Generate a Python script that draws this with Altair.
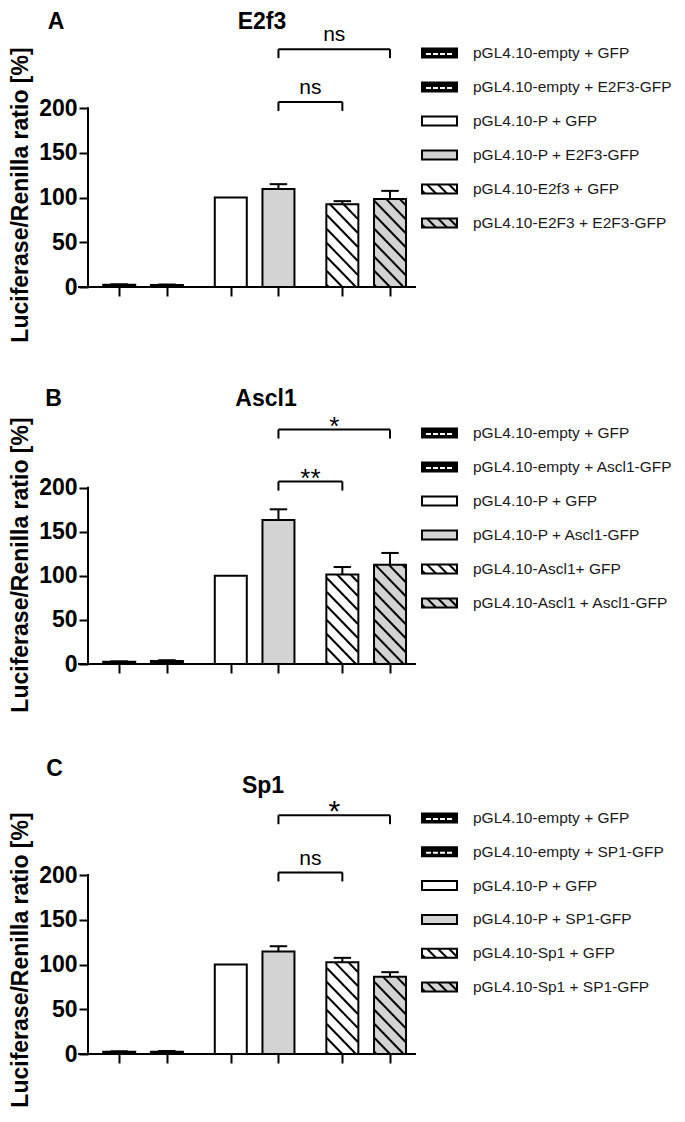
import altair as alt
import pandas as pd

# ---------------- data ----------------
panel_letters = ["A", "B", "C"]
genes = ["E2f3", "Ascl1", "Sp1"]

legend_A = ["pGL4.10-empty  + GFP", "pGL4.10-empty  + E2F3-GFP", "pGL4.10-P + GFP",
            "pGL4.10-P + E2F3-GFP", "pGL4.10-E2f3 + GFP", "pGL4.10-E2F3 + E2F3-GFP"]
legend_B = ["pGL4.10-empty  + GFP", "pGL4.10-empty  + Ascl1-GFP", "pGL4.10-P + GFP",
            "pGL4.10-P + Ascl1-GFP", "pGL4.10-Ascl1+ GFP", "pGL4.10-Ascl1 + Ascl1-GFP"]
legend_C = ["pGL4.10-empty  + GFP", "pGL4.10-empty  + SP1-GFP", "pGL4.10-P + GFP",
            "pGL4.10-P + SP1-GFP", "pGL4.10-Sp1 + GFP", "pGL4.10-Sp1 + SP1-GFP"]

means_A = [2.5, 2.3, 100, 109.5, 92.5, 98.5]
sem_A = [0.5, 0.5, 0, 5.5, 3.5, 9.0]
means_B = [2.5, 3.5, 100, 163.5, 101.5, 112.5]
sem_B = [0.5, 0.8, 0, 12.0, 8.5, 13.5]
means_C = [2.5, 2.5, 100, 114.5, 102.5, 86.5]
sem_C = [0.5, 0.8, 0, 6.0, 5.0, 5.0]

# significance brackets: (from bar, to bar, label, level)
brk_A = [(3, 4, "ns", 207), (3, 5, "ns", 266)]
brk_B = [(3, 4, "**", 207), (3, 5, "*", 266)]
brk_C = [(3, 4, "ns", 203), (3, 5, "*", 267)]

y_ticks = [0, 50, 100, 150, 200]
y_title = "Luciferase/Renilla ratio [%]"

# ---------------- style / layout ----------------
FILLS = ["black", "black", "white", "#d3d3d3", "white", "#d3d3d3"]
HATCH = [False, False, False, False, True, True]
CHECK = [True, True, False, False, False, False]
POS = [1 + i + (i // 2) * 0.34 for i in range(6)]
X_MIN, X_MAX = 0.45, 7.12
W = 328
UX = W / (X_MAX - X_MIN)
BAR_W = 32
CAP_W = 18
LW = 240
LGAP = 5

layout = [
    dict(ymax=312, H=279, lab_xy=(-32, 14), gene_xy=(174, 14), title_above0=92.5,
         leg0=45, legstep=34, star=26),
    dict(ymax=312, H=275, lab_xy=(-34.5, 9.5), gene_xy=(178, 9.5), title_above0=99.5,
         leg0=44, legstep=34, star=26),
    dict(ymax=322, H=288, lab_xy=(-33.5, 3), gene_xy=(175, 20), title_above0=94.5,
         leg0=52, legstep=33.8, star=30),
]


def hatch_segments(x0, x1, y0, y1, spacing, phase):
    """diagonal '\\' lines clipped to a box (y measured upward)."""
    h = y1 - y0
    segs = []
    c = x0 + phase
    while c < x1 + h:
        xs = max(x0, c - h)
        xe = min(x1, c)
        if xe - xs > 0.5:
            segs.append((xs, y0 + c - xs, xe, y0 + c - xe))
        c += spacing
    return segs


def make_panel(letter, gene, labels, means, sems, brackets, lay):
    ymax, H = lay["ymax"], lay["H"]
    ky = H / ymax
    xs = alt.Scale(domain=[X_MIN, X_MAX], nice=False, zero=False)
    ys = alt.Scale(domain=[0, ymax], nice=False, zero=True)

    xaxis = alt.Axis(values=POS, labels=False, title=None, domain=False, grid=False,
                     ticks=True, tickSize=9, tickWidth=2, tickColor="black")
    yaxis = alt.Axis(values=y_ticks, domain=False, grid=False, tickSize=9, tickWidth=2,
                     tickColor="black", labelFontSize=23, labelFontWeight="bold",
                     labelColor="black", labelPadding=2, title=y_title,
                     titleFontSize=23, titleFontWeight="bold", titleColor="black",
                     titleX=-68, titleY=H - lay["title_above0"], titleBaseline="middle",
                     titleAlign="center", titleAngle=270)

    def X(f):
        return alt.X(f, scale=xs, axis=xaxis)

    def Y(f):
        return alt.Y(f, scale=ys, axis=yaxis)

    df = pd.DataFrame({"pos": POS, "val": means, "err": sems, "fill": FILLS})
    df["top"] = df["val"] + df["err"]
    df["xl"] = df["pos"] - CAP_W / 2 / UX
    df["xr"] = df["pos"] + CAP_W / 2 / UX

    base = alt.Chart(df)
    bars_fill = base.mark_bar(orient="vertical", size=BAR_W, strokeWidth=0).encode(
        x=X("pos:Q"), y=Y("val:Q"), fill=alt.Fill("fill:N", scale=None))

    hrows = []
    for i in range(6):
        if not HATCH[i]:
            continue
        cx = (POS[i] - X_MIN) * UX
        for (a, b, c, d) in hatch_segments(cx - BAR_W / 2, cx + BAR_W / 2, 0,
                                           means[i] * ky, 14, 2):
            hrows.append({"x": X_MIN + a / UX, "y": b / ky,
                          "x2": X_MIN + c / UX, "y2": d / ky})
    hatch = alt.Chart(pd.DataFrame(hrows)).mark_rule(strokeWidth=2, color="black").encode(
        x=X("x:Q"), y=Y("y:Q"), x2="x2:Q", y2="y2:Q")

    bars_outline = base.mark_bar(orient="vertical", size=BAR_W, fillOpacity=0,
                                 stroke="black", strokeWidth=2).encode(
        x=X("pos:Q"), y=Y("val:Q"))

    err = base.transform_filter("datum.err > 0")
    err_stem = err.mark_rule(strokeWidth=2, color="black").encode(
        x=X("pos:Q"), y=Y("val:Q"), y2="top:Q")
    err_cap = err.mark_rule(strokeWidth=2, color="black").encode(
        x=X("xl:Q"), x2="xr:Q", y=Y("top:Q"))

    yline = alt.Chart(pd.DataFrame({"y0": [0], "y1": [200]})).mark_rule(
        strokeWidth=2, color="black", strokeCap="square").encode(
        x=alt.value(0), y=Y("y0:Q"), y2="y1:Q")
    xline = alt.Chart(pd.DataFrame({"y0": [0]})).mark_rule(
        strokeWidth=2, color="black").encode(
        x=alt.value(-10), x2=alt.value(W), y=Y("y0:Q"))

    drop = 9 / ky
    hb, vb, tb = [], [], []
    for (a, b, lab, lev) in brackets:
        hb.append({"xa": POS[a], "xb": POS[b], "lev": lev})
        for k in (a, b):
            vb.append({"x": POS[k], "y0": lev - drop, "y1": lev})
        star = lab.startswith("*")
        off = (2.8 if star else 13.8) / ky
        tb.append({"x": (POS[a] + POS[b]) / 2, "y": lev + off, "t": lab,
                   "fs": lay["star"] if star else 21})
    br_h = alt.Chart(pd.DataFrame(hb)).mark_rule(strokeWidth=2, color="black").encode(
        x=X("xa:Q"), x2="xb:Q", y=Y("lev:Q"))
    br_v = alt.Chart(pd.DataFrame(vb)).mark_rule(strokeWidth=2, color="black").encode(
        x=X("x:Q"), y=Y("y0:Q"), y2="y1:Q")
    br_t = alt.Chart(pd.DataFrame(tb)).mark_text(baseline="middle", align="center",
                                                 color="black").encode(
        x=X("x:Q"), y=Y("y:Q"), text="t:N", size=alt.Size("fs:Q", scale=None))

    one = pd.DataFrame({"k": [0]})
    t_letter = alt.Chart(one).mark_text(text=letter, fontSize=23, fontWeight="bold",
                                        align="center", baseline="middle",
                                        color="black").encode(
        x=alt.value(lay["lab_xy"][0]), y=alt.value(lay["lab_xy"][1]))
    t_gene = alt.Chart(one).mark_text(text=gene, fontSize=23, fontWeight="bold",
                                      align="center", baseline="middle",
                                      color="black").encode(
        x=alt.value(lay["gene_xy"][0]), y=alt.value(lay["gene_xy"][1]))

    plot = alt.layer(bars_fill, hatch, bars_outline, err_stem, err_cap, yline, xline,
                     br_h, br_v, br_t, t_letter, t_gene)

    # ---------- custom legend (own pixel scales, right of the plot) ----------
    lx = alt.Scale(domain=[0, LW], range=[W + LGAP, W + LGAP + LW])
    ly = alt.Scale(domain=[0, H], range=[0, H])

    def LX(f):
        return alt.X(f, scale=lx, axis=None)

    def LY(f):
        return alt.Y(f, scale=ly, axis=None)

    rows, lh, chk = [], [], []
    for i, lab in enumerate(labels):
        yc = lay["leg0"] + i * lay["legstep"]
        rows.append({"label": lab, "fill": FILLS[i], "x0": 1, "x1": 36,
                     "ya": yc - 4.5, "yb": yc + 4.5, "yc": yc, "tx": 52})
        if HATCH[i]:
            for (a, b, c, d) in hatch_segments(1, 36, 0, 9, 11, 3):
                lh.append({"x": a, "y": yc + 4.5 - b, "x2": c, "y2": yc + 4.5 - d})
        if CHECK[i]:
            chk.append({"x": 5, "x2": 33, "y": yc + 1})
    lbase = alt.Chart(pd.DataFrame(rows))
    sw_fill = lbase.mark_rect(strokeWidth=0).encode(
        x=LX("x0:Q"), x2="x1:Q", y=LY("ya:Q"), y2="yb:Q",
        fill=alt.Fill("fill:N", scale=None))
    sw_hatch = alt.Chart(pd.DataFrame(lh)).mark_rule(strokeWidth=2, color="black").encode(
        x=LX("x:Q"), y=LY("y:Q"), x2="x2:Q", y2="y2:Q")
    sw_chk = alt.Chart(pd.DataFrame(chk)).mark_rule(strokeWidth=2, color="white",
                                                    strokeDash=[5, 2]).encode(
        x=LX("x:Q"), x2="x2:Q", y=LY("y:Q"))
    sw_out = lbase.mark_rect(fillOpacity=0, stroke="black", strokeWidth=2).encode(
        x=LX("x0:Q"), x2="x1:Q", y=LY("ya:Q"), y2="yb:Q")
    sw_txt = lbase.mark_text(align="left", baseline="middle", fontSize=15.5,
                             color="#1a1a1a").encode(
        x=LX("tx:Q"), y=LY("yc:Q"), text="label:N", size=alt.value(15.5))
    legend = alt.layer(sw_fill, sw_hatch, sw_chk, sw_out, sw_txt)

    return alt.layer(plot, legend).resolve_scale(
        x="independent", y="independent").resolve_axis(
        x="independent", y="independent").properties(width=W, height=H)


panels = [
    make_panel(panel_letters[0], genes[0], legend_A, means_A, sem_A, brk_A, layout[0]),
    make_panel(panel_letters[1], genes[1], legend_B, means_B, sem_B, brk_B, layout[1]),
    make_panel(panel_letters[2], genes[2], legend_C, means_C, sem_C, brk_C, layout[2]),
]

chart = alt.vconcat(*panels, spacing=102, bounds="flush").properties(
    padding={"left": 0, "top": 0, "right": 0, "bottom": 0}
).configure(font="Liberation Sans").configure_view(stroke=None)

chart.save("out.html", embed_options={"renderer": "svg", "actions": False})
